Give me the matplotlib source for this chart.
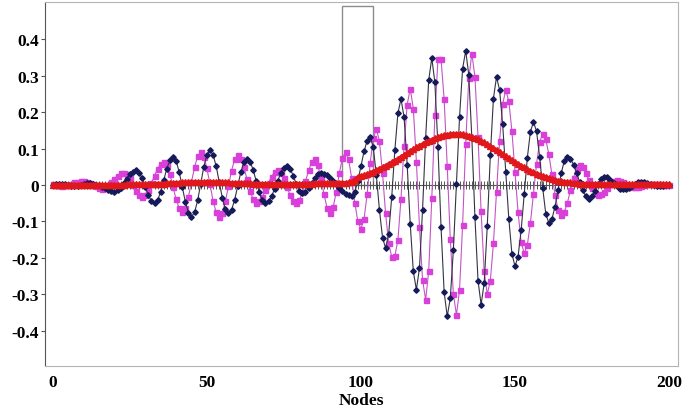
import numpy as np
import matplotlib
matplotlib.use('Agg')
import matplotlib.pyplot as plt

plt.rcParams['font.family'] = ['Liberation Serif', 'DejaVu Serif']
plt.rcParams['font.weight'] = 'bold'

# real part (navy diamonds), nodes 0..200
re = [0.001, 0.003, 0.004, 0.004, 0.002, -0.001, -0.003, -0.004, -0.003, 0.000,
      0.003, 0.005, 0.005, 0.003, 0.000, -0.001, -0.005, -0.009, -0.014, -0.017,
      -0.018, -0.015, -0.007, 0.005, 0.017, 0.029, 0.037, 0.040, 0.034, 0.018,
      -0.005, -0.028, -0.044, -0.050, -0.042, -0.018, 0.014, 0.045, 0.069, 0.077,
      0.066, 0.036, -0.005, -0.046, -0.076, -0.087, -0.075, -0.042, 0.004, 0.050,
      0.083, 0.095, 0.083, 0.052, 0.009, -0.035, -0.066, -0.078, -0.068, -0.041,
      -0.003, 0.035, 0.062, 0.072, 0.064, 0.042, 0.011, -0.020, -0.042, -0.050,
      -0.045, -0.031, -0.010, 0.012, 0.033, 0.047, 0.052, 0.045, 0.026, 0.003,
      -0.016, -0.023, -0.019, -0.009, 0.005, 0.019, 0.029, 0.033, 0.031, 0.027,
      0.020, 0.011, 0.002, -0.008, -0.017, -0.024, -0.028, -0.030, -0.019, 0.011,
      0.051, 0.092, 0.121, 0.132, 0.103, 0.027, -0.068, -0.144, -0.173, -0.134,
      -0.032, 0.095, 0.197, 0.236, 0.186, 0.056, -0.107, -0.237, -0.287, -0.227,
      -0.068, 0.129, 0.288, 0.348, 0.281, 0.104, -0.116, -0.293, -0.360, -0.311,
      -0.178, 0.004, 0.186, 0.319, 0.368, 0.302, 0.128, -0.088, -0.262, -0.328,
      -0.269, -0.113, 0.081, 0.237, 0.296, 0.261, 0.166, 0.037, -0.093, -0.188,
      -0.223, -0.196, -0.124, -0.025, 0.074, 0.146, 0.173, 0.147, 0.077, -0.009,
      -0.079, -0.105, -0.093, -0.059, -0.014, 0.032, 0.066, 0.078, 0.072, 0.056,
      0.033, 0.008, -0.015, -0.031, -0.037, -0.031, -0.016, 0.002, 0.017, 0.023,
      0.021, 0.014, 0.006, -0.003, -0.010, -0.012, -0.011, -0.007, -0.002, 0.003,
      0.007, 0.008, 0.007, 0.005, 0.002, -0.001, -0.003, -0.004, -0.003, -0.001,
      0.000]

# imaginary part (magenta squares)
im = [0.002, 0.001, -0.001, -0.002, -0.001, 0.001, 0.004, 0.007, 0.009, 0.010,
      0.010, 0.009, 0.006, 0.002, -0.003, -0.008, -0.011, -0.009, -0.003, 0.007,
      0.017, 0.026, 0.032, 0.034, 0.030, 0.018, 0.001, -0.016, -0.028, -0.032,
      -0.027, -0.014, 0.005, 0.026, 0.045, 0.058, 0.063, 0.054, 0.029, -0.005,
      -0.039, -0.064, -0.073, -0.062, -0.032, 0.009, 0.049, 0.079, 0.090, 0.078,
      0.046, 0.002, -0.043, -0.075, -0.087, -0.076, -0.045, -0.003, 0.039, 0.070,
      0.081, 0.072, 0.049, 0.017, -0.016, -0.039, -0.048, -0.044, -0.032, -0.014,
      0.006, 0.023, 0.036, 0.040, 0.034, 0.018, -0.005, -0.028, -0.044, -0.050,
      -0.042, -0.020, 0.010, 0.040, 0.062, 0.070, 0.056, 0.020, -0.026, -0.062,
      -0.076, -0.060, -0.019, 0.033, 0.074, 0.090, 0.070, 0.018, -0.048, -0.100,
      -0.120, -0.094, -0.026, 0.060, 0.128, 0.154, 0.120, 0.032, -0.078, -0.160,
      -0.197, -0.195, -0.151, -0.037, 0.106, 0.220, 0.264, 0.209, 0.064, -0.115,
      -0.260, -0.315, -0.236, -0.036, 0.191, 0.345, 0.345, 0.236, 0.053, -0.147,
      -0.299, -0.356, -0.288, -0.109, 0.113, 0.292, 0.360, 0.297, 0.132, -0.072,
      -0.237, -0.300, -0.262, -0.160, -0.020, 0.120, 0.222, 0.260, 0.230, 0.148,
      0.037, -0.075, -0.157, -0.187, -0.165, -0.105, -0.024, 0.058, 0.118, 0.140,
      0.125, 0.084, 0.029, -0.027, -0.068, -0.083, -0.074, -0.049, -0.015, 0.020,
      0.045, 0.054, 0.049, 0.034, 0.013, -0.008, -0.023, -0.028, -0.025, -0.018,
      -0.008, 0.003, 0.010, 0.013, 0.012, 0.008, 0.004, -0.001, -0.005, -0.006,
      -0.005, -0.004, -0.001, 0.002, 0.004, 0.004, 0.003, 0.002, 0.001, 0.000,
      0.000]

# probability density (red)
prob = [0.001, 0.001, 0.001, 0.001, 0.001, 0.001, 0.001, 0.001, 0.001, 0.001,
        0.001, 0.001, 0.001, 0.001, 0.001, 0.001, 0.001, 0.001, 0.001, 0.001,
        0.001, 0.001, 0.001, 0.001, 0.002, 0.002, 0.002, 0.002, 0.002, 0.002,
        0.002, 0.003, 0.003, 0.003, 0.004, 0.004, 0.004, 0.005, 0.005, 0.006,
        0.006, 0.006, 0.007, 0.007, 0.007, 0.008, 0.008, 0.008, 0.008, 0.008,
        0.009, 0.009, 0.008, 0.008, 0.008, 0.007, 0.007, 0.007, 0.006, 0.006,
        0.006, 0.006, 0.005, 0.005, 0.005, 0.004, 0.004, 0.004, 0.003, 0.003,
        0.003, 0.003, 0.003, 0.003, 0.003, 0.003, 0.003, 0.003, 0.003, 0.003,
        0.003, 0.003, 0.004, 0.004, 0.004, 0.005, 0.005, 0.005, 0.005, 0.005,
        0.006, 0.006, 0.006, 0.006, 0.006, 0.006, 0.007, 0.009, 0.015, 0.022,
        0.025, 0.027, 0.030, 0.033, 0.037, 0.041, 0.044, 0.049, 0.053, 0.058,
        0.062, 0.067, 0.072, 0.077, 0.082, 0.088, 0.093, 0.098, 0.103, 0.108,
        0.112, 0.117, 0.121, 0.124, 0.128, 0.131, 0.134, 0.136, 0.138, 0.139,
        0.140, 0.140, 0.140, 0.139, 0.137, 0.135, 0.132, 0.129, 0.126, 0.121,
        0.117, 0.112, 0.107, 0.102, 0.096, 0.091, 0.085, 0.079, 0.074, 0.068,
        0.063, 0.058, 0.053, 0.048, 0.043, 0.039, 0.035, 0.031, 0.028, 0.025,
        0.022, 0.019, 0.017, 0.014, 0.012, 0.011, 0.009, 0.008, 0.007, 0.006,
        0.005, 0.004, 0.004, 0.003, 0.003, 0.003, 0.003, 0.003, 0.002, 0.002,
        0.002, 0.002, 0.002, 0.002, 0.002, 0.002, 0.002, 0.002, 0.002, 0.002,
        0.002, 0.002, 0.002, 0.002, 0.002, 0.002, 0.002, 0.002, 0.002, 0.002,
        0.002]

nodes = np.arange(len(re))

barrier_start = 94
barrier_width = 10
barrier_height = 0.49

x_ticks = [0, 50, 100, 150, 200]
y_ticks = [-0.4, -0.3, -0.2, -0.1, 0, 0.1, 0.2, 0.3, 0.4]
y_labels = ['-0.4', '-0.3', '-0.2', '-0.1', '0', '0.1', '0.2', '0.3', '0.4']

fig = plt.figure(figsize=(6.9, 4.1), dpi=100)
ax = fig.add_axes([0.065, 0.105, 0.918, 0.888])

ax.bar(barrier_start, barrier_height, width=barrier_width, align='edge',
       fill=False, edgecolor='#8c8c8c', linewidth=1.0, zorder=1)

# zero axis with a tick at every node
ax.plot(nodes, np.zeros(len(nodes)), color='#555555', lw=0.8,
        marker='|', ms=6, mew=0.7, zorder=2)

ax.plot(nodes, im, color='#c455c4', lw=0.8, marker='s', ms=3.6,
        mfc='#d940d9', mec='#d940d9', zorder=3)
ax.plot(nodes, re, color='#333344', lw=0.8, marker='D', ms=2.8,
        mfc='#141a5a', mec='#141a5a', zorder=4)
ax.plot(nodes, prob, color='#e0181c', lw=2.6, marker='^', ms=4,
        mfc='#e0181c', mec='#e0181c', zorder=5)

ax.set_xlim(-2.6, 203)
ax.set_ylim(-0.496, 0.502)
ax.set_xticks(x_ticks)
ax.set_xticklabels([str(v) for v in x_ticks], fontsize=12.5, fontweight='bold')
ax.set_yticks(y_ticks)
ax.set_yticklabels(y_labels, fontsize=12.5, fontweight='bold')
ax.tick_params(axis='x', length=0, pad=6)
ax.tick_params(axis='y', length=3, width=0.8, color='#555555', pad=1)
ax.set_xlabel('Nodes', fontsize=12.5, fontweight='bold', labelpad=1)

for side in ['top', 'right', 'bottom']:
    ax.spines[side].set_color('#b5b5b5')
ax.spines['left'].set_color('#555555')

fig.savefig('out.png', dpi=100)
